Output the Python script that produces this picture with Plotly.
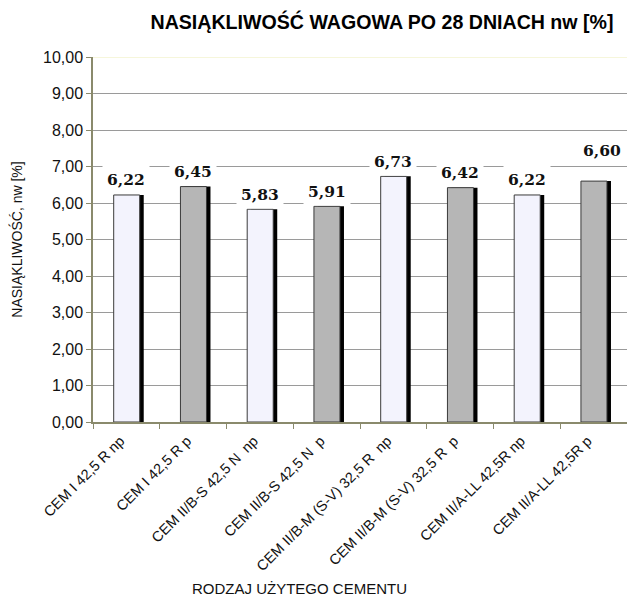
import plotly.graph_objects as go

# Cement types tested and water absorption by weight after 28 days [%]
cements = [
    "CEM I 42,5 R np",
    "CEM I 42,5 R p",
    "CEM II/B-S 42,5 N  np",
    "CEM II/B-S 42,5 N  p",
    "CEM II/B-M (S-V) 32,5 R  np",
    "CEM II/B-M (S-V) 32,5 R  p",
    "CEM II/A-LL 42,5R np",
    "CEM II/A-LL 42,5R p",
]
absorption = [6.22, 6.45, 5.83, 5.91, 6.73, 6.42, 6.22, 6.60]
y_ticks = [0, 1, 2, 3, 4, 5, 6, 7, 8, 9, 10]

W, H = 627, 603
M_L, M_R, M_T, M_B = 93, 0, 57, 181

light_fill = "#f3f3fd"
grey_fill = "#b6b6b6"
fills = [light_fill if i % 2 == 0 else grey_fill for i in range(len(cements))]

BAR_W = 0.39
BAR_OFF = -0.19
SHADOW_DX = 0.06

fig = go.Figure()

# drop shadow to the right of every column
fig.add_trace(go.Bar(
    x=cements, y=absorption,
    width=BAR_W, offset=BAR_OFF + SHADOW_DX,
    marker=dict(color="#000000", line=dict(width=0)),
    hoverinfo="skip", showlegend=False,
))

# the columns themselves
fig.add_trace(go.Bar(
    x=cements, y=absorption,
    width=BAR_W, offset=BAR_OFF,
    marker=dict(color=fills, line=dict(color="#3a3a3a", width=1)),
    showlegend=False,
))

# value labels on white boxes above the columns
for i, (c, v) in enumerate(zip(cements, absorption)):
    last = i == len(cements) - 1
    fig.add_annotation(
        x=c, y=v, xref="x", yref="y",
        text=f"{v:.2f}".replace(".", ","),
        showarrow=False, yanchor="middle",
        yshift=31 if last else 15, xshift=8 if last else 0,
        font=dict(family="DejaVu Serif", size=15.5, color="#111111", weight="bold"),
        bgcolor="#ffffff", borderpad=4,
    )

# pale line closing the plot area at the top
fig.add_shape(type="line", xref="paper", yref="y", x0=0, x1=1, y0=10, y1=10,
              line=dict(color="#f3f3cf", width=1.5), layer="below")

axis_col = "#8a8a6c"

fig.update_layout(
    width=W, height=H,
    margin=dict(l=M_L, r=M_R, t=M_T, b=M_B),
    paper_bgcolor="#ffffff", plot_bgcolor="#ffffff",
    separators=", ",
    barmode="overlay",
    title=dict(
        text="NASIĄKLIWOŚĆ WAGOWA PO 28 DNIACH nw [%]",
        xref="container", yref="container",
        x=382 / W, y=1 - 22 / H, xanchor="center", yanchor="middle",
        font=dict(family="Liberation Sans", size=19.6, color="#000000", weight="bold"),
    ),
    font=dict(family="Liberation Sans", color="#000000"),
    xaxis=dict(
        type="category",
        tickangle=-45,
        tickfont=dict(family="Liberation Sans", size=14.5, color="#111111"),
        ticklabelshift=-6, ticklabelstandoff=3,
        showline=True, linecolor=axis_col, linewidth=1.5,
        ticks="outside", tickson="boundaries", ticklen=5, tickcolor=axis_col,
        showgrid=False,
    ),
    yaxis=dict(
        range=[0, 10],
        tickvals=y_ticks,
        tickformat=".2f",
        tickfont=dict(family="Liberation Sans", size=16, color="#111111"),
        showline=True, linecolor=axis_col, linewidth=1.5,
        ticks="outside", ticklen=5, tickcolor=axis_col,
        showgrid=True, gridcolor="#9a9a9a", gridwidth=1.2,
        zeroline=False,
        title=dict(text="NASIĄKLIWOŚĆ, nw [%]", standoff=17,
                   font=dict(family="Liberation Sans", size=14, color="#111111")),
    ),
)

plot_h = H - M_T - M_B
plot_w = W - M_L - M_R
fig.add_annotation(
    text="RODZAJ UŻYTEGO CEMENTU",
    xref="paper", yref="paper",
    x=(299 - M_L) / plot_w, y=-(588 - (H - M_B)) / plot_h,
    xanchor="center", yanchor="middle", showarrow=False,
    font=dict(family="Liberation Sans", size=15, color="#111111"),
)

fig.write_html("out.html")
